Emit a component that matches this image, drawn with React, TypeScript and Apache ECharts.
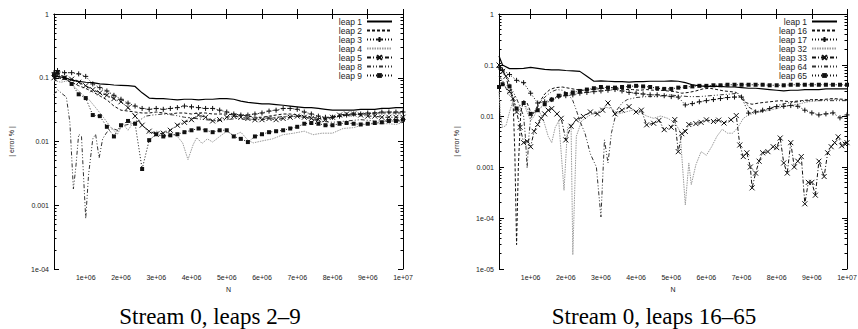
import React, { useEffect, useRef } from 'react';
import * as echarts from 'echarts';

// N in millions
const N_GRID = [0.1, 0.2, 0.4, 0.6, 0.8, 1.0, 1.2, 1.4, 1.6, 1.8,
  2.0, 2.2, 2.4, 2.6, 2.8, 3.0, 3.2, 3.4, 3.6, 3.8,
  4.0, 4.2, 4.4, 4.6, 4.8, 5.0, 5.2, 5.4, 5.6, 5.8,
  6.0, 6.2, 6.4, 6.6, 6.8, 7.0, 7.2, 7.4, 7.6, 7.8,
  8.0, 8.2, 8.4, 8.6, 8.8, 9.0, 9.2, 9.4, 9.6, 9.8, 10];

const X_TICKS = [1, 2, 3, 4, 5, 6, 7, 8, 9, 10];
const X_LABELS = ['1e+06', '2e+06', '3e+06', '4e+06', '5e+06', '6e+06', '7e+06', '8e+06', '9e+06', '1e+07'];
const Y_TICKS_A = [1e-4, 1e-3, 1e-2, 1e-1, 1];
const Y_LABELS_A = ['1e-04', '0.001', '0.01', '0.1', '1'];
const Y_TICKS_B = [1e-5, 1e-4, 1e-3, 1e-2, 1e-1, 1];
const Y_LABELS_B = ['1e-05', '1e-04', '0.001', '0.01', '0.1', '1'];

const LEGEND_A = ['leap 1', 'leap 2', 'leap 3', 'leap 4', 'leap 5', 'leap 8', 'leap 9'];
const LEGEND_B = ['leap 1', 'leap 16', 'leap 17', 'leap 32', 'leap 33', 'leap 64', 'leap 65'];
const CAPTION_A = 'Stream 0, leaps 2\u20139';
const CAPTION_B = 'Stream 0, leaps 16\u201365';

// ---- Panel A (leaps 2-9), values on N_GRID ----
const LEAP1_A = [0.10, 0.105, 0.10, 0.092, 0.088, 0.085, 0.084, 0.080, 0.079, 0.077,
  0.076, 0.075, 0.073, 0.058, 0.048, 0.047, 0.047, 0.046, 0.045, 0.046,
  0.046, 0.045, 0.046, 0.046, 0.047, 0.047, 0.046, 0.043, 0.041, 0.040,
  0.039, 0.039, 0.038, 0.037, 0.036, 0.035, 0.034, 0.034, 0.033, 0.032,
  0.031, 0.031, 0.031, 0.031, 0.032, 0.032, 0.032, 0.033, 0.033, 0.034, 0.034];
const LEAP2_A = [0.11, 0.10, 0.095, 0.085, 0.075, 0.068, 0.060, 0.052, 0.045, 0.036,
  0.031, 0.030, 0.029, 0.028, 0.028, 0.029, 0.028, 0.027, 0.028, 0.028,
  0.027, 0.028, 0.028, 0.027, 0.027, 0.027, 0.026, 0.026, 0.025, 0.024,
  0.024, 0.025, 0.026, 0.027, 0.027, 0.026, 0.025, 0.024, 0.023, 0.023,
  0.024, 0.025, 0.026, 0.026, 0.027, 0.027, 0.028, 0.028, 0.028, 0.028, 0.028];
const LEAP3_A = [0.12, 0.13, 0.12, 0.12, 0.115, 0.105, 0.080, 0.070, 0.062, 0.053,
  0.046, 0.040, 0.036, 0.033, 0.032, 0.033, 0.032, 0.033, 0.034, 0.036,
  0.035, 0.034, 0.033, 0.033, 0.031, 0.029, 0.027, 0.026, 0.026, 0.027,
  0.028, 0.030, 0.031, 0.033, 0.033, 0.032, 0.029, 0.027, 0.025, 0.024,
  0.024, 0.025, 0.026, 0.027, 0.027, 0.028, 0.028, 0.029, 0.029, 0.029, 0.029];
const LEAP4_A = [[0.1, 0.09], [0.3, 0.085], [0.5, 0.09], [0.7, 0.07], [0.9, 0.055], [1.1, 0.045],
  [1.3, 0.033], [1.5, 0.024], [1.7, 0.017], [1.9, 0.013], [2.05, 0.019], [2.2, 0.015], [2.35, 0.02],
  [2.5, 0.022], [2.65, 0.017], [2.8, 0.0135], [3.0, 0.0145], [3.2, 0.014], [3.4, 0.0135], [3.6, 0.012],
  [3.75, 0.0095], [3.9, 0.0052], [4.05, 0.009], [4.15, 0.0115], [4.3, 0.0093], [4.45, 0.011],
  [4.6, 0.0098], [4.8, 0.012], [5.0, 0.0145], [5.2, 0.0125], [5.4, 0.014], [5.6, 0.0105],
  [5.75, 0.0095], [6.0, 0.0102], [6.3, 0.011], [6.6, 0.0128], [6.9, 0.0135], [7.2, 0.0145],
  [7.45, 0.0128], [7.7, 0.0135], [8.0, 0.0135], [8.3, 0.016], [8.6, 0.0165], [8.9, 0.0185],
  [9.2, 0.019], [9.6, 0.019], [9.8, 0.0185], [10, 0.02]];
const LEAP5_A = [0.10, 0.11, 0.10, 0.095, 0.085, 0.075, 0.065, 0.058, 0.053, 0.047,
  0.042, 0.034, 0.025, 0.018, 0.0145, 0.013, 0.0135, 0.015, 0.018, 0.020,
  0.022, 0.026, 0.024, 0.021, 0.022, 0.024, 0.025, 0.024, 0.023, 0.022,
  0.022, 0.023, 0.022, 0.023, 0.024, 0.025, 0.024, 0.023, 0.022, 0.022,
  0.024, 0.026, 0.027, 0.027, 0.026, 0.025, 0.025, 0.024, 0.024, 0.024, 0.024];
const LEAP8_A = [[0.1, 0.055], [0.2, 0.065], [0.35, 0.055], [0.45, 0.05], [0.55, 0.02], [0.65, 0.0018],
  [0.72, 0.004], [0.8, 0.013], [0.88, 0.012], [1.0, 0.00062], [1.08, 0.003], [1.2, 0.011], [1.28, 0.013],
  [1.38, 0.0055], [1.48, 0.011], [1.6, 0.014], [1.75, 0.016], [1.9, 0.015], [2.1, 0.018], [2.3, 0.019],
  [2.5, 0.021], [2.7, 0.025], [2.9, 0.026], [3.2, 0.027], [3.5, 0.026], [3.8, 0.024], [4.1, 0.023],
  [4.4, 0.022], [4.7, 0.021], [5.0, 0.022], [5.3, 0.023], [5.6, 0.022], [6.0, 0.023], [6.4, 0.024],
  [6.8, 0.025], [7.2, 0.024], [7.6, 0.021], [8.0, 0.02], [8.4, 0.021], [8.8, 0.022], [9.2, 0.021],
  [9.6, 0.021], [10, 0.021]];
const LEAP9_A = [0.11, 0.12, 0.10, 0.08, 0.055, 0.048, 0.026, 0.025, 0.017, 0.012,
  0.018, 0.021, 0.019, 0.0037, 0.0105, 0.013, 0.012, 0.0125, 0.013, 0.014,
  0.015, 0.016, 0.015, 0.014, 0.015, 0.015, 0.012, 0.011, 0.0098, 0.012,
  0.013, 0.014, 0.0145, 0.015, 0.016, 0.017, 0.019, 0.0195, 0.019, 0.018,
  0.018, 0.019, 0.0195, 0.019, 0.0185, 0.019, 0.0195, 0.020, 0.021, 0.021, 0.022];

// ---- Panel B (leaps 16-65) ----
const LEAP1_B = [0.15, 0.10, 0.085, 0.085, 0.086, 0.090, 0.086, 0.082, 0.080, 0.080,
  0.078, 0.077, 0.075, 0.060, 0.048, 0.049, 0.048, 0.047, 0.047, 0.046,
  0.047, 0.047, 0.048, 0.048, 0.048, 0.049, 0.048, 0.045, 0.041, 0.039,
  0.038, 0.038, 0.038, 0.037, 0.037, 0.036, 0.035, 0.035, 0.034, 0.033,
  0.032, 0.031, 0.032, 0.032, 0.033, 0.033, 0.033, 0.034, 0.034, 0.034, 0.034];
const LEAP16_B = [[0.1, 0.09], [0.2, 0.08], [0.3, 0.06], [0.4, 0.045], [0.5, 0.02], [0.55, 0.002],
  [0.6, 3e-5], [0.65, 0.001], [0.72, 0.012], [0.8, 0.02], [0.9, 0.018], [1.0, 0.012], [1.1, 0.011],
  [1.2, 0.015], [1.3, 0.021], [1.4, 0.027], [1.55, 0.033], [1.7, 0.036], [1.9, 0.037], [2.1, 0.035],
  [2.3, 0.033], [2.5, 0.032], [2.7, 0.033], [2.9, 0.034], [3.1, 0.035], [3.3, 0.036], [3.5, 0.034],
  [3.7, 0.033], [3.9, 0.033], [4.1, 0.032], [4.3, 0.033], [4.5, 0.032], [4.7, 0.032], [4.9, 0.031],
  [5.1, 0.03], [5.3, 0.028], [5.5, 0.029], [5.7, 0.031], [5.9, 0.034], [6.1, 0.035], [6.3, 0.033],
  [6.5, 0.031], [6.7, 0.03], [6.85, 0.029], [7.0, 0.022], [7.15, 0.018], [7.3, 0.017], [7.5, 0.018],
  [7.8, 0.019], [8.1, 0.02], [8.4, 0.019], [8.7, 0.02], [9.0, 0.021], [9.3, 0.021], [9.6, 0.022],
  [10, 0.021]];
const LEAP17_B = [0.09, 0.08, 0.065, 0.050, 0.045, 0.028, 0.018, 0.019, 0.021, 0.024,
  0.025, 0.026, 0.028, 0.029, 0.030, 0.031, 0.032, 0.033, 0.031, 0.029,
  0.028, 0.027, 0.026, 0.026, 0.025, 0.024, 0.0235, 0.0165, 0.0175, 0.019,
  0.020, 0.021, 0.022, 0.023, 0.0235, 0.0235, 0.0114, 0.012, 0.013, 0.014,
  0.0153, 0.0155, 0.016, 0.0155, 0.013, 0.0115, 0.0105, 0.011, 0.0115, 0.0092, 0.0105];
const LEAP32_B = [[0.1, 0.03], [0.15, 0.009], [0.2, 0.006], [0.3, 0.0065], [0.4, 0.012], [0.5, 0.02],
  [0.6, 0.013], [0.7, 0.012], [0.8, 0.018], [0.9, 0.012], [1.0, 0.008], [1.1, 0.01], [1.2, 0.014],
  [1.35, 0.009], [1.5, 0.004], [1.6, 0.003], [1.7, 0.006], [1.8, 0.008], [1.95, 0.00035], [2.05, 0.006],
  [2.15, 0.007], [2.2, 1.9e-5], [2.3, 0.004], [2.45, 0.008], [2.6, 0.0095], [2.75, 0.011], [2.9, 0.012],
  [3.1, 0.015], [3.3, 0.014], [3.5, 0.011], [3.7, 0.012], [3.9, 0.013], [4.1, 0.012], [4.3, 0.01],
  [4.5, 0.009], [4.7, 0.01], [4.9, 0.009], [5.1, 0.0075], [5.25, 0.005], [5.4, 0.00018], [5.5, 0.0012],
  [5.57, 0.00045], [5.7, 0.0011], [5.85, 0.002], [6.0, 0.0017], [6.15, 0.0025], [6.3, 0.004],
  [6.45, 0.0055], [6.6, 0.0046], [6.75, 0.0046], [6.9, 0.006], [7.05, 0.009], [7.2, 0.0105],
  [7.4, 0.0115], [7.7, 0.0125], [8.0, 0.014], [8.3, 0.016], [8.6, 0.017], [8.9, 0.019], [9.2, 0.02],
  [9.5, 0.021], [9.8, 0.021], [10, 0.02]];
const LEAP33_B = [[0.1, 0.1], [0.2, 0.075], [0.3, 0.06], [0.4, 0.03], [0.5, 0.022], [0.6, 0.012],
  [0.7, 0.006], [0.8, 0.003], [0.9, 0.0032], [1.0, 0.0025], [1.1, 0.005], [1.2, 0.0068], [1.3, 0.009],
  [1.4, 0.011], [1.5, 0.013], [1.6, 0.014], [1.75, 0.011], [1.87, 0.009], [2.0, 0.0034], [2.15, 0.0063],
  [2.3, 0.0084], [2.5, 0.0098], [2.7, 0.012], [2.9, 0.011], [3.05, 0.013], [3.2, 0.018], [3.4, 0.011],
  [3.6, 0.013], [3.8, 0.0153], [4.0, 0.012], [4.15, 0.013], [4.3, 0.0067], [4.5, 0.0072], [4.65, 0.0082],
  [4.8, 0.0054], [5.0, 0.006], [5.1, 0.0085], [5.2, 0.002], [5.3, 0.0045], [5.4, 0.005], [5.5, 0.0068],
  [5.7, 0.0071], [5.85, 0.0075], [6.0, 0.0084], [6.2, 0.0078], [6.35, 0.0083], [6.5, 0.0073],
  [6.7, 0.0084], [6.85, 0.0102], [6.95, 0.0027], [7.05, 0.0016], [7.15, 0.0019], [7.25, 0.001],
  [7.3, 0.00039], [7.4, 0.00076], [7.5, 0.0013], [7.6, 0.0019], [7.75, 0.002], [7.9, 0.0025],
  [8.0, 0.0024], [8.1, 0.0037], [8.2, 0.0012], [8.3, 0.00076], [8.4, 0.003], [8.5, 0.001], [8.6, 0.0013],
  [8.7, 0.0016], [8.8, 0.00019], [8.9, 0.0005], [9.0, 0.0005], [9.1, 0.00028], [9.2, 0.0013],
  [9.35, 0.00065], [9.45, 0.0019], [9.55, 0.0025], [9.65, 0.003], [9.75, 0.0039], [9.85, 0.0026],
  [9.95, 0.0028], [10, 0.003]];
const LEAP64_B = [[0.1, 0.06], [0.2, 0.05], [0.3, 0.035], [0.4, 0.025], [0.5, 0.03], [0.6, 0.022],
  [0.7, 0.015], [0.8, 0.01], [0.85, 0.004], [0.9, 0.00095], [0.95, 0.004], [1.0, 0.009], [1.1, 0.012],
  [1.2, 0.016], [1.3, 0.02], [1.45, 0.025], [1.6, 0.03], [1.75, 0.033], [1.9, 0.032], [2.05, 0.028],
  [2.2, 0.02], [2.3, 0.013], [2.4, 0.008], [2.55, 0.0045], [2.7, 0.0018], [2.87, 0.001], [3.0, 0.000105],
  [3.05, 0.0006], [3.1, 0.0034], [3.2, 0.0012], [3.3, 0.0047], [3.45, 0.013], [3.6, 0.018], [3.75, 0.021],
  [4.0, 0.023], [4.3, 0.024], [4.6, 0.024], [4.9, 0.026], [5.2, 0.025], [5.5, 0.024], [5.8, 0.024],
  [6.1, 0.025], [6.4, 0.026], [6.7, 0.027], [6.9, 0.028], [7.05, 0.022], [7.2, 0.015], [7.35, 0.013],
  [7.5, 0.012], [7.7, 0.013], [8.0, 0.016], [8.3, 0.018], [8.6, 0.019], [8.9, 0.02], [9.2, 0.02],
  [9.6, 0.02], [10, 0.02]];
const LEAP65_B = [0.037, 0.042, 0.038, 0.014, 0.018, 0.011, 0.013, 0.017, 0.021, 0.025,
  0.027, 0.029, 0.031, 0.033, 0.035, 0.037, 0.036, 0.036, 0.037, 0.038,
  0.039, 0.038, 0.037, 0.035, 0.034, 0.034, 0.036, 0.037, 0.038, 0.039,
  0.039, 0.040, 0.040, 0.041, 0.041, 0.041, 0.041, 0.041, 0.041, 0.040,
  0.040, 0.040, 0.041, 0.041, 0.041, 0.041, 0.041, 0.041, 0.041, 0.041, 0.041];

const SANS = '"Liberation Sans", Arial, sans-serif';
const SERIF = '"Liberation Serif", "Times New Roman", serif';

const PLUS = 'path://M0,5L10,5M5,0L5,10';
const CROSS = 'path://M0,0L10,10M10,0L0,10';
const NO_MARK = 'path://M0,0L1,1';

type Kind = 'solid' | 'dash' | 'plus' | 'gray' | 'cross' | 'dashdot' | 'square';
const STYLES: Record<Kind, any> = {
  solid: { color: '#000', width: 1.2, dash: 'solid', z: 10 },
  dash: { color: '#111', width: 1, dash: [3, 2], z: 5 },
  plus: { color: '#111', width: 1, dash: [1, 2], symbol: PLUS, size: 5, fill: 'none', bw: 1, z: 6 },
  gray: { color: '#999', width: 1, dash: [1.5, 1], z: 3 },
  cross: { color: '#111', width: 1, dash: [4, 2, 1, 2], symbol: CROSS, size: 5, fill: 'none', bw: 1, z: 7 },
  dashdot: { color: '#333', width: 1, dash: [4, 2, 1, 2, 1, 2], z: 4 },
  square: { color: '#111', width: 1, dash: [1, 2], symbol: 'rect', size: 4, fill: '#111', bw: 0, z: 8 },
};

const onGrid = (vals: number[]) => N_GRID.map((n, i) => [n, vals[i]]);

function mkSeries(name: string, data: number[][], panel: number, kind: Kind) {
  const st = STYLES[kind];
  const hasMark = !!st.symbol;
  return {
    type: 'line',
    name,
    data,
    xAxisIndex: panel * 2,
    yAxisIndex: panel * 4,
    symbol: hasMark ? st.symbol : NO_MARK,
    symbolSize: hasMark ? st.size : 1,
    showSymbol: hasMark,
    lineStyle: { color: st.color, width: st.width, type: st.dash },
    itemStyle: hasMark
      ? { color: st.fill === 'none' ? 'transparent' : st.fill, borderColor: st.color, borderWidth: st.bw || 0 }
      : { color: 'rgba(0,0,0,0)', borderColor: 'rgba(0,0,0,0)', borderWidth: 0 },
    emphasis: { disabled: true },
    silent: true,
    z: st.z,
  };
}

function labelFor(ticks: number[], labels: string[]) {
  return (v: number) => {
    const e = Math.round(Math.log10(v));
    const i = ticks.findIndex((t) => Math.round(Math.log10(t)) === e);
    return i >= 0 ? labels[i] : '';
  };
}

function minorTicks(minExp: number) {
  const out: number[] = [];
  for (let d = minExp; d < 0; d++) {
    for (let k = 2; k <= 9; k++) out.push(d + Math.log10(k));
  }
  return out;
}

const tickStyle = { color: '#000', width: 1 };
const labelStyle = { fontSize: 7, color: '#222', fontFamily: SANS };

function xAxes(grid: number) {
  const base = {
    gridIndex: grid, type: 'value', min: 0.1, max: 10,
    axisLine: { show: true, lineStyle: tickStyle },
    axisTick: { show: true, inside: true, length: 5, customValues: X_TICKS, lineStyle: tickStyle },
    splitLine: { show: false },
  };
  return [
    {
      ...base, position: 'bottom',
      axisLabel: {
        show: true, customValues: X_TICKS, margin: 5, ...labelStyle,
        formatter: (v: number) => X_LABELS[X_TICKS.indexOf(Math.round(v))] || '',
      },
      name: 'N', nameLocation: 'middle', nameGap: 16, nameTextStyle: labelStyle,
    },
    { ...base, position: 'top', axisLabel: { show: false } },
  ];
}

function yAxes(grid: number, ticks: number[], labels: string[], nameGap: number) {
  const minV = ticks[0];
  const minExp = Math.round(Math.log10(minV));
  const major = {
    gridIndex: grid, type: 'log', logBase: 10, min: minV, max: 1,
    axisLine: { show: true, lineStyle: tickStyle },
    axisTick: { show: true, inside: true, length: 5, lineStyle: tickStyle },
    splitLine: { show: false }, minorTick: { show: false }, minorSplitLine: { show: false },
  };
  const minor = {
    gridIndex: grid, type: 'value', min: minExp, max: 0,
    axisLine: { show: false },
    axisTick: { show: true, inside: true, length: 2.5, customValues: minorTicks(minExp), lineStyle: tickStyle },
    axisLabel: { show: false }, splitLine: { show: false },
  };
  return [
    {
      ...major, position: 'left',
      axisLabel: { show: true, margin: 5, ...labelStyle, formatter: labelFor(ticks, labels) },
      name: '| error % |', nameLocation: 'middle', nameGap, nameRotate: 90, nameTextStyle: labelStyle,
    },
    { ...major, position: 'right', axisLabel: { show: false } },
    { ...minor, position: 'left' },
    { ...minor, position: 'right' },
  ];
}

function legend(data: string[], right: number) {
  return {
    show: true, orient: 'vertical', align: 'right', right, top: 17, padding: 0,
    itemWidth: 25, itemHeight: 6, itemGap: 0, selectedMode: false, data,
    textStyle: { fontSize: 8.5, lineHeight: 8, color: '#222', fontFamily: SANS },
  };
}

export default function App() {
  const ref = useRef<HTMLDivElement>(null);
  useEffect(() => {
    document.body.style.margin = '0';
    if (!ref.current) return;
    const chart = echarts.init(ref.current, undefined, { renderer: 'svg' });
    const option: any = {
      animation: false,
      backgroundColor: '#fff',
      grid: [
        { left: 54, top: 14, width: 349, height: 255, containLabel: false, outerBoundsMode: 'none' },
        { left: 499, top: 14, width: 348, height: 255, containLabel: false, outerBoundsMode: 'none' },
      ],
      xAxis: [...xAxes(0), ...xAxes(1)],
      yAxis: [...yAxes(0, Y_TICKS_A, Y_LABELS_A, 39), ...yAxes(1, Y_TICKS_B, Y_LABELS_B, 39)],
      legend: [legend(LEGEND_A, 465), legend(LEGEND_B, 20)],
      series: [
        mkSeries('leap 2', onGrid(LEAP2_A), 0, 'dash'),
        mkSeries('leap 4', LEAP4_A, 0, 'gray'),
        mkSeries('leap 8', LEAP8_A, 0, 'dashdot'),
        mkSeries('leap 3', onGrid(LEAP3_A), 0, 'plus'),
        mkSeries('leap 5', onGrid(LEAP5_A), 0, 'cross'),
        mkSeries('leap 9', onGrid(LEAP9_A), 0, 'square'),
        mkSeries('leap 1', onGrid(LEAP1_A), 0, 'solid'),
        mkSeries('leap 16', LEAP16_B, 1, 'dash'),
        mkSeries('leap 32', LEAP32_B, 1, 'gray'),
        mkSeries('leap 64', LEAP64_B, 1, 'dashdot'),
        mkSeries('leap 17', onGrid(LEAP17_B), 1, 'plus'),
        mkSeries('leap 33', LEAP33_B, 1, 'cross'),
        mkSeries('leap 65', onGrid(LEAP65_B), 1, 'square'),
        mkSeries('leap 1', onGrid(LEAP1_B), 1, 'solid'),
      ],
      graphic: [
        { type: 'text', x: 210, y: 328, style: { text: CAPTION_A, font: `23px ${SERIF}`, fill: '#000', align: 'center', verticalAlign: 'bottom' } },
        { type: 'text', x: 654, y: 328, style: { text: CAPTION_B, font: `23px ${SERIF}`, fill: '#000', align: 'center', verticalAlign: 'bottom' } },
      ],
    };
    chart.setOption(option);
    return () => chart.dispose();
  }, []);
  return <div ref={ref} style={{ width: 858, height: 329 }} />;
}
